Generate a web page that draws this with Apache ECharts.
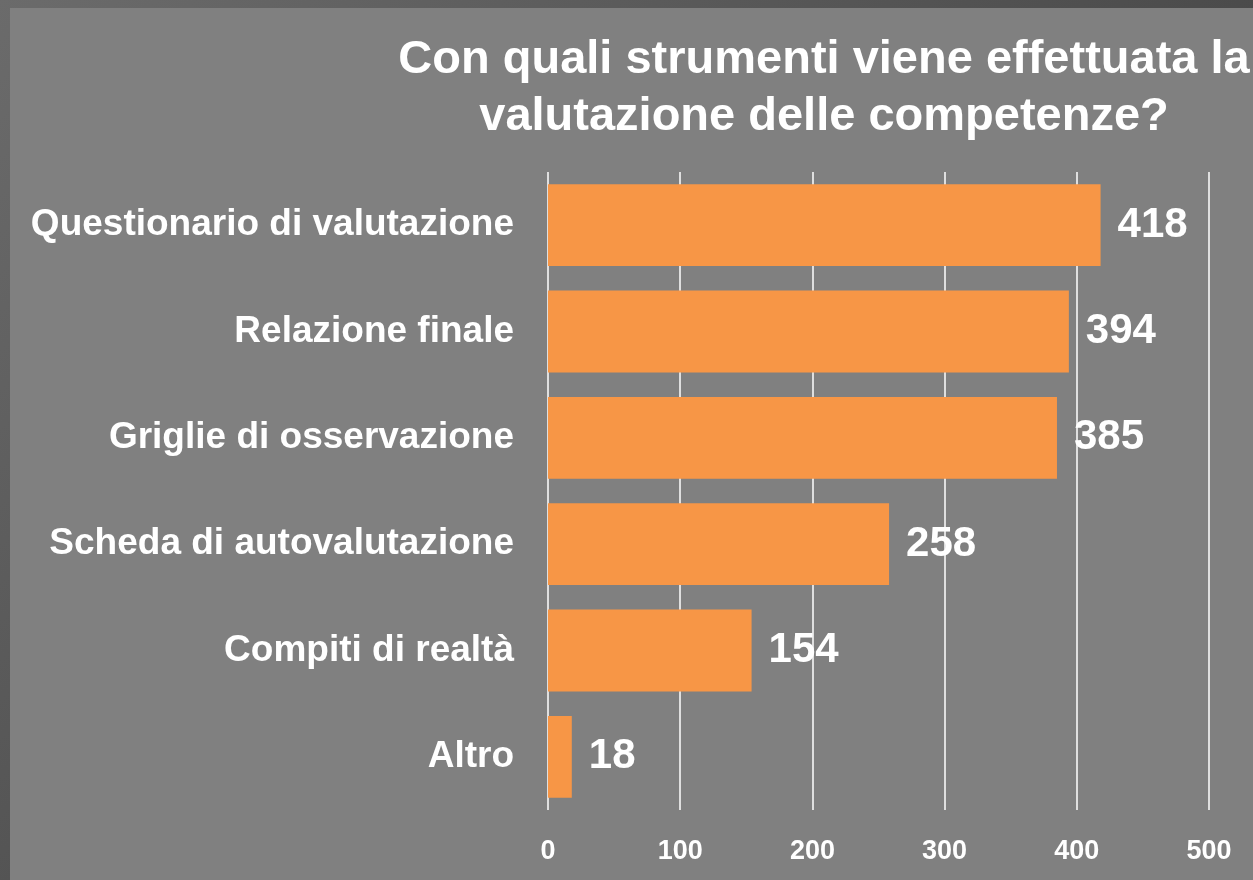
<!DOCTYPE html>
<html>
<head>
<meta charset="utf-8">
<script src="https://cdn.jsdelivr.net/npm/echarts@6/dist/echarts.min.js"></script>
<style>
html, body {
  margin: 0;
  padding: 0;
  width: 1253px;
  height: 880px;
  overflow: hidden;
  background: linear-gradient(135deg, #6b6b6b 0%, #4a4a4a 60%, #3a3a3a 100%);
}
#chart {
  position: absolute;
  left: 10px;
  top: 8px;
  width: 1243px;
  height: 872px;
  background-color: #808080;
}
</style>
</head>
<body>
<div id="chart"></div>
<script>
var categories = [
  "Questionario di valutazione",
  "Relazione finale",
  "Griglie di osservazione",
  "Scheda di autovalutazione",
  "Compiti di realtà",
  "Altro"
];
var values = [418, 394, 385, 258, 154, 18];
var tickMax = 500;
var tickStep = 100;

var sans = "'Liberation Sans', Arial, sans-serif";

var myChart = echarts.init(document.getElementById("chart"));
var option = {
  backgroundColor: "#808080",
  title: {
    text: "Con quali strumenti viene effettuata la\nvalutazione delle competenze?",
    left: 809,
    top: 19,
    textAlign: "center",
    textStyle: {
      color: "#ffffff",
      fontFamily: sans,
      fontWeight: "bold",
      fontSize: 47,
      lineHeight: 57
    }
  },
  grid: {
    left: 538,
    right: 44,
    top: 164,
    bottom: 70
  },
  xAxis: {
    type: "value",
    min: 0,
    max: tickMax,
    interval: tickStep,
    axisLine: { show: false },
    axisTick: { show: false },
    splitLine: {
      show: true,
      lineStyle: { color: "#ffffff", width: 1.5 }
    },
    axisLabel: {
      color: "#ffffff",
      fontFamily: sans,
      fontWeight: "bold",
      fontSize: 27,
      margin: 28
    }
  },
  yAxis: {
    type: "category",
    inverse: true,
    data: categories,
    axisLine: { show: false },
    axisTick: { show: false },
    axisLabel: {
      color: "#ffffff",
      fontFamily: sans,
      fontWeight: "bold",
      fontSize: 37,
      margin: 34
    }
  },
  series: [
    {
      type: "bar",
      data: values,
      barWidth: "77%",
      itemStyle: { color: "#F79646" },
      label: {
        show: true,
        position: "right",
        distance: 17,
        color: "#ffffff",
        fontFamily: sans,
        fontWeight: "bold",
        fontSize: 42
      }
    }
  ]
};
myChart.setOption(option);
</script>
</body>
</html>
